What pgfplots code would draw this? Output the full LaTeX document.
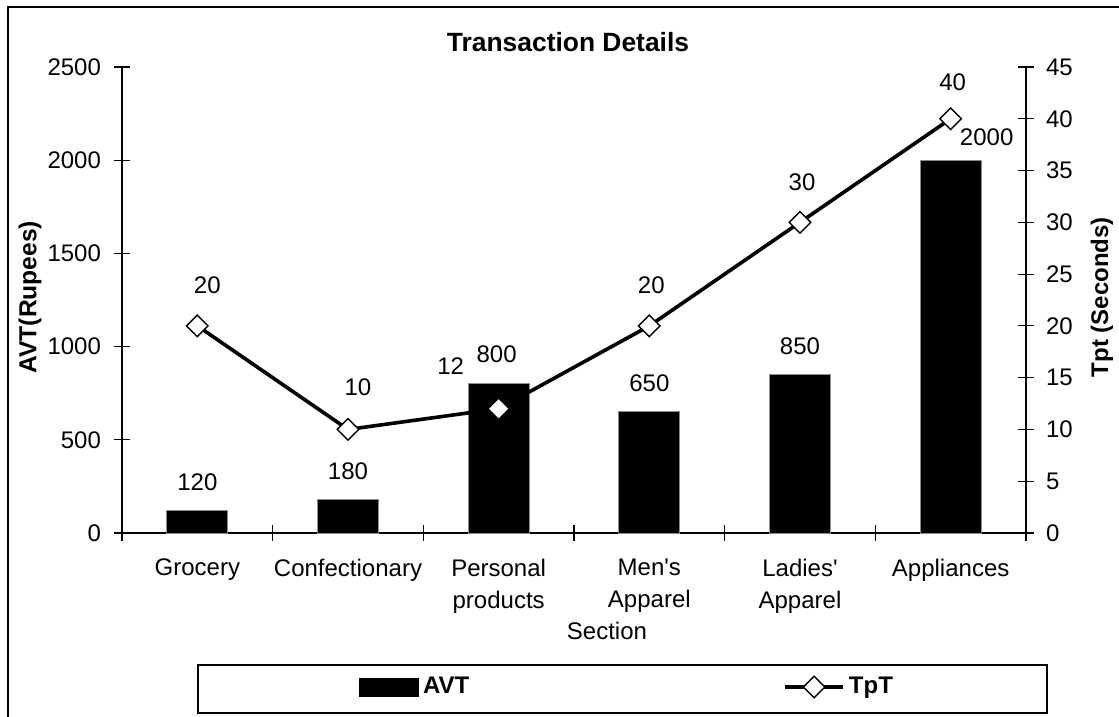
\documentclass[border=0pt]{standalone}
\usepackage{fontspec}
\setmainfont{Liberation Sans}[Ligatures=TeXOff]
\usepackage{pgfplots}
\usepackage{pgfplotstable}
\pgfplotsset{compat=1.18}

\pgfplotstableread{
x avt dx dy
0 120 0 10
1 180 0 10
2 800 -1 10.5
3 650 0 10
4 850 0 10
5 2000 18 7.5
}\avtdata

\pgfplotstableread{
x tpt dx dy
0 20 5 16
1 10 5 17
2 12 -24 17
3 20 1 16
4 30 1 16
5 40 1 14
}\tptdata

\pgfplotsset{
  myaxis/.style={
    scale only axis,
    width=452pt, height=233pt,
    at={(61pt,-266.5pt)}, anchor=south west,
    xmin=-0.5, xmax=5.5,
    font=\fontsize{12}{14.4}\selectfont,
    tick label style={font=\fontsize{12}{14.4}\selectfont},
    /pgf/number format/assume math mode=true,
    /pgf/number format/1000 sep={},
    tick align=center,
    major tick length=8pt,
    axis line style={line width=0.6pt},
    every tick/.style={line width=0.6pt, black},
  },
  lineleg/.style={legend image code/.code={\draw[mark repeat=2,mark phase=2,##1] plot coordinates {(0pt,0pt) (14.5pt,0pt) (29pt,0pt)};}},
  barleg/.style={legend image code/.code={\fill[black] (0pt,-4.5pt) rectangle (29.5pt,4.5pt);}},
}

\begin{document}
\begin{tikzpicture}
\useasboundingbox (0pt,0pt) rectangle (559.5pt,-358.5pt);
\draw[line width=0.8pt] (4pt,-360pt) -- (4pt,-3.5pt) -- (560pt,-3.5pt);

\begin{axis}[myaxis,
  axis x line*=bottom, axis y line*=left,
  ymin=0, ymax=2500, ytick={0,500,...,2500},
  yticklabel style={xshift=-3pt},
  xtick={-0.5,0.5,1.5,2.5,3.5,4.5,5.5},
  xticklabels={},
  extra x ticks={0,1,2,3,4,5},
  extra x tick labels={Grocery,Confectionary,Personal\\products,Men's\\Apparel,Ladies'\\Apparel,Appliances},
  extra x tick style={major tick length=0pt, tick label style={align=center, font=\fontsize{12}{16}\selectfont, yshift=-9.5pt}},
  title={Transaction Details},
  title style={at={(axis description cs:0.4934,1)}, anchor=base, yshift=2pt, font=\fontsize{13.2}{15}\bfseries},
  ylabel={AVT(Rupees)},
  ylabel style={at={(axis description cs:-0.1018,0.506)}, anchor=center, font=\fontsize{12.3}{14.4}\bfseries},
  xlabel={Section},
  xlabel style={at={(axis description cs:0.5365,-0.2103)}, anchor=center},
]
\addplot[ybar, bar width=30.5pt, fill=black, draw=black!45, line width=0.5pt,
  point meta=y,
  nodes near coords,
  visualization depends on={\thisrow{dx} \as \dx},
  visualization depends on={\thisrow{dy} \as \dy},
  every node near coord/.append style={anchor=base, xshift=\dx pt, yshift=\dy pt, black, font=\fontsize{12}{14.4}\selectfont},
] table[x=x, y=avt] {\avtdata};
\end{axis}

\begin{axis}[myaxis,
  axis x line=none, axis y line*=right,
  ymin=0, ymax=45, ytick={0,5,...,45},
  yticklabel style={xshift=2.5pt},
  ylabel={Tpt (Seconds)},
  ylabel style={at={(axis description cs:1.084,0.506)}, anchor=center, font=\fontsize{12}{14.4}\bfseries},
  legend columns=2,
  legend style={at={(axis description cs:0.2555,-0.3305)}, anchor=west, draw=none, fill=none,
    font=\fontsize{12}{14.4}\bfseries,
    /tikz/every even column/.append style={column sep=155pt}},
]
\addlegendimage{barleg}
\addlegendentry{AVT}
\addplot[black, line width=1.8pt,
  mark=square*, mark size=3.8pt,
  mark options={fill=white, rotate=45, line width=0.7pt, solid},
  lineleg,
  point meta=y,
  nodes near coords,
  visualization depends on={\thisrow{dx} \as \dx},
  visualization depends on={\thisrow{dy} \as \dy},
  every node near coord/.append style={anchor=base, xshift=\dx pt, yshift=\dy pt, black, font=\fontsize{12}{14.4}\selectfont},
] table[x=x, y=tpt] {\tptdata};
\addlegendentry{TpT}
\end{axis}

\draw[line width=0.7pt] (99pt,-332.5pt) rectangle (523.5pt,-356.5pt);
\end{tikzpicture}
\end{document}
